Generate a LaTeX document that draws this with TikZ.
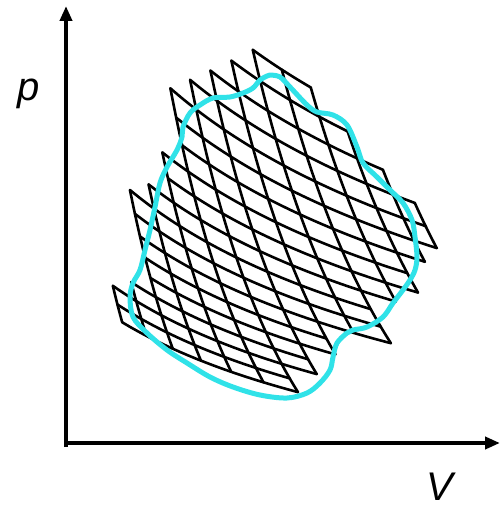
\documentclass[tikz,border=0pt]{standalone}
\usepackage{fontspec}
\setmainfont{Liberation Sans}
\usetikzlibrary{arrows.meta}
\definecolor{loopcyan}{RGB}{48,226,232}
\begin{document}
\begin{tikzpicture}[x=1pt,y=-1pt,
  declare function={
    mcc(\t)=9.0283-0.0458*\t;
    mpp(\s)=max(\s-8,0);
    mkk(\s)=20.48+0.225*\s-0.0025*\s*\s-0.000694*mpp(\s)*mpp(\s)*mpp(\s);
    muu(\s,\t)=(mkk(\s)-mcc(\t))/2.25;
    mxx(\s,\t)=-112+exp(muu(\s,\t));
    myy(\s,\t)=636-exp(mcc(\t)-0.45*muu(\s,\t));
  },
  axisline/.style={line width=3.8pt,-{Triangle[length=15pt,width=12pt]}},
  meshline/.style={line width=2.6pt,black,line cap=round,line join=round},
  loopline/.style={line width=5pt,loopcyan,line join=round},
  axlabel/.style={font=\fontsize{40}{44}\selectfont\itshape,inner sep=0pt}]
\useasboundingbox (0,0) rectangle (500,508);
% axes
\coordinate (ytip) at (66,6);
\coordinate (xtip) at (500,443);
\coordinate (ystart) at (66,447);
\coordinate (xstart) at (64,443);
\draw[axisline] (ystart) -- (ytip);
\draw[axisline] (xstart) -- (xtip);
\node[axlabel,anchor=base] (plabel) at (29,101) {p};
\node[axlabel,anchor=base] (vlabel) at (440,500) {V};
% isotherms
\foreach \t/\a/\b in {0/9/11,1/8/12,2/7/13,3/6/14,4/5/14,5/5/14,6/5/13,7/4/12,8/4/12,9/3/11,10/2/10,11/2/10,12/2/10,13/2/8,14/2/8,15/1/7,16/0/7,17/0/6,18/0/6}
  \draw[meshline] plot[variable=\s,domain=\a:\b,samples=20,smooth] ({mxx(\s,\t)},{myy(\s,\t)});
% adiabats
\foreach \s/\a/\b in {0/16/18,1/15/18,2/10/18,3/9/18,4/7/18,5/4/18,6/3/18,7/2/16,8/1/14,9/0/12,10/0/12,11/0/9,12/1/8,13/2/6,14/3/5}
  \draw[meshline] plot[variable=\t,domain=\a:\b,samples=20,smooth] ({mxx(\s,\t)},{myy(\s,\t)});
% cyclic process
\draw[loopline] plot[smooth cycle,tension=0.55] coordinates {
(270,75) (280,77) (290,87) (307,105) (317,112) (333,115) (347,125) (357,147)
(363,163) (377,177) (390,190) (403,203) (412,220) (415,237) (417,257) (415,270)
(410,280) (403,290) (393,303) (383,317) (367,327) (353,330) (347,333) (337,343)
(333,357) (330,370) (320,383) (307,393) (287,398) (260,395) (233,387) (210,377)
(187,363) (167,350) (147,333) (133,317) (130,297) (133,283) (140,270) (145,250)
(150,230) (155,207) (160,183) (167,167) (177,150) (182,137) (183,127) (190,113)
(200,105) (213,98) (230,97) (243,93) (253,88) (260,80) (267,76)};
\end{tikzpicture}
\end{document}
